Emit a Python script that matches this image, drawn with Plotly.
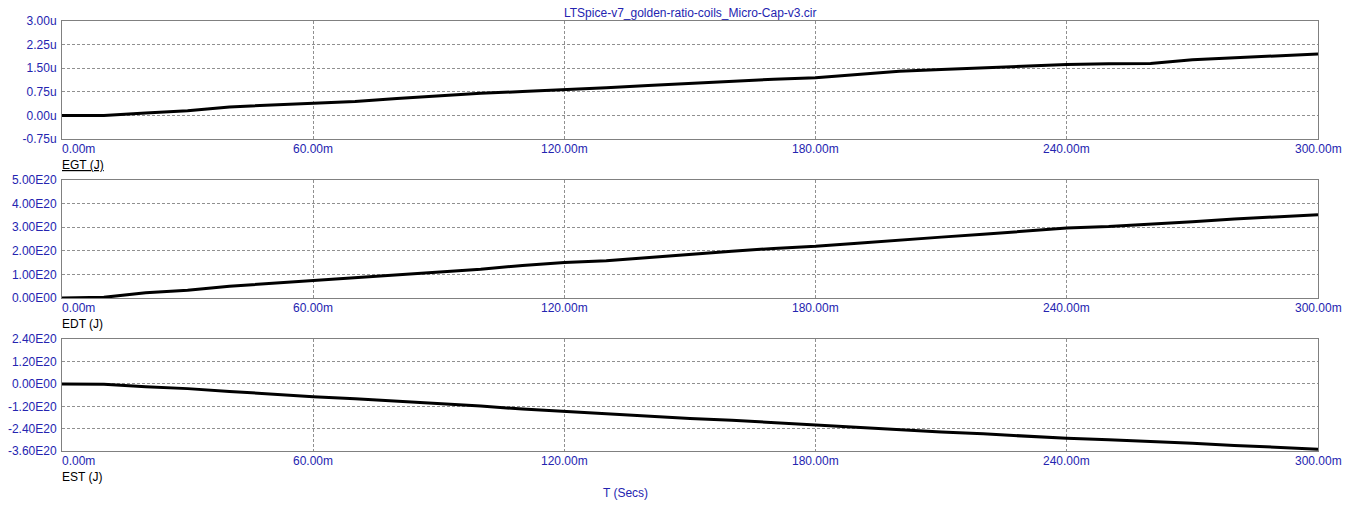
import plotly.graph_objects as go

# time axis (ms) and the three energy traces
t_ms = [0, 10, 20, 30, 40, 50, 60, 70, 80, 90, 100, 110, 120, 130, 140, 150,
        160, 170, 180, 190, 200, 210, 220, 230, 240, 250, 260, 270, 280, 290, 300]

egt_u = [0.00, 0.00, 0.08, 0.15, 0.27, 0.32, 0.38, 0.44, 0.54, 0.63, 0.70, 0.76,
         0.81, 0.88, 0.95, 1.02, 1.09, 1.15, 1.20, 1.30, 1.40, 1.46, 1.52, 1.58,
         1.62, 1.64, 1.65, 1.77, 1.83, 1.90, 1.95]

edt_e20 = [0.00, 0.03, 0.22, 0.33, 0.50, 0.62, 0.74, 0.85, 0.95, 1.08, 1.22, 1.38,
           1.50, 1.58, 1.72, 1.87, 1.98, 2.10, 2.19, 2.32, 2.46, 2.58, 2.70, 2.82,
           2.97, 3.03, 3.12, 3.23, 3.35, 3.45, 3.53]

est_e20 = [0.00, -0.02, -0.15, -0.25, -0.40, -0.55, -0.68, -0.80, -0.92, -1.05, -1.18,
           -1.35, -1.48, -1.58, -1.70, -1.85, -1.95, -2.08, -2.17, -2.30, -2.45, -2.58,
           -2.68, -2.80, -2.92, -3.00, -3.08, -3.18, -3.30, -3.42, -3.50]

x_ticks = [0, 60, 120, 180, 240, 300]
egt_ticks = [-0.75, 0.0, 0.75, 1.5, 2.25, 3.0]
edt_ticks = [0, 1, 2, 3, 4, 5]
est_ticks = [-3.6, -2.4, -1.2, 0.0, 1.2, 2.4]

title = "LTSpice-v7_golden-ratio-coils_Micro-Cap-v3.cir"
labels = ["EGT (J)", "EDT (J)", "EST (J)"]

BLUE = "#2424B0"
GRID = "#909090"
FONT = "Arial, Liberation Sans, sans-serif"


def e20_text(v):
    if v == 0:
        return "0.00E00"
    return f"{v:.2f}E20"


panels = [
    (egt_u, egt_ticks, [f"{v:.2f}u" for v in egt_ticks], (0.7256, 1.0)),
    (edt_e20, edt_ticks, [e20_text(v) for v in edt_ticks], (0.3558, 0.6302)),
    (est_e20, est_ticks, [e20_text(v) for v in est_ticks], (0.0, 0.2598)),
]

fig = go.Figure()
annotations = []

for i, (vals, yt, ytext, dom) in enumerate(panels):
    n = "" if i == 0 else str(i + 1)
    fig.add_trace(go.Scatter(x=t_ms, y=vals, mode="lines", xaxis="x" + n, yaxis="y" + n,
                             line=dict(color="black", width=3), hoverinfo="skip",
                             showlegend=False))
    axis_common = dict(showline=True, linecolor="#808080", linewidth=1, mirror=True,
                       showgrid=True, gridcolor=GRID, griddash="3px,2px", gridwidth=1,
                       zeroline=False, ticks="", fixedrange=True, automargin=False)
    fig.update_layout(**{
        "xaxis" + n: dict(axis_common, domain=[0, 1], range=[0, 300], tickvals=x_ticks,
                          showticklabels=False, anchor="y" + n),
        "yaxis" + n: dict(axis_common, domain=list(dom), range=[yt[0], yt[-1]],
                          tickvals=yt, ticktext=ytext, anchor="x" + n,
                          tickfont=dict(family=FONT, size=12, color=BLUE),
                          ticklabelstandoff=2),
    })
    # x tick labels (first one sits to the right of its tick, like the original)
    for j, xv in enumerate(x_ticks):
        annotations.append(dict(x=xv, y=dom[0], xref="x" + n, yref="paper",
                                text=f"{xv:.2f}m", showarrow=False,
                                xanchor="left" if j == 0 else "center", yanchor="top",
                                yshift=-1, xshift=-2 if j == 0 else 0,
                                font=dict(family=FONT, size=12, color=BLUE)))
    lab = f"<u>{labels[i]}</u>" if i == 0 else labels[i]
    annotations.append(dict(x=0, y=dom[0], xref="x" + n, yref="paper", text=lab,
                            showarrow=False, xanchor="left", yanchor="top", yshift=-17,
                            xshift=-2, font=dict(family=FONT, size=12, color="black")))

annotations.append(dict(x=0.5, y=1, xref="paper", yref="paper", text=title,
                        showarrow=False, xanchor="center", yanchor="bottom", yshift=-1,
                        font=dict(family=FONT, size=12, color=BLUE)))
annotations.append(dict(x=0.4487, y=0, xref="paper", yref="paper", text="T (Secs)",
                        showarrow=False, xanchor="center", yanchor="top", yshift=-33,
                        font=dict(family=FONT, size=12, color=BLUE)))

fig.update_layout(width=1353, height=513, paper_bgcolor="white", plot_bgcolor="white",
                  margin=dict(l=62, r=35, t=21, b=62), annotations=annotations,
                  font=dict(family=FONT, size=12))

fig.write_html("out.html", config={"displayModeBar": False},
               post_script="document.body.style.margin='0';")
